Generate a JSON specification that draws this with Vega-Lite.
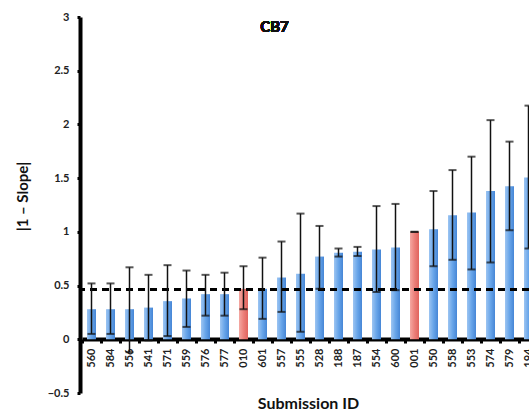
{
  "$schema": "https://vega.github.io/schema/vega-lite/v6.json",
  "width": 449,
  "height": 376,
  "autosize": {"type": "none"},
  "padding": {"left": 80, "top": 17, "right": 0, "bottom": 19},
  "background": "white",
  "config": {
    "view": {"stroke": null},
    "axis": {"grid": false, "labelFont": "Lato", "titleFont": "Lato", "labelFontWeight": "bold", "titleFontWeight": "bold", "labelColor": "#222", "titleColor": "#111", "domainColor": "black", "tickColor": "black"}
  },
  "data": {"values": [
    {"id": "560", "value": 0.28, "lo": 0.05, "hi": 0.52, "type": "submission"},
    {"id": "584", "value": 0.28, "lo": 0.05, "hi": 0.52, "type": "submission"},
    {"id": "556", "value": 0.28, "lo": -0.12, "hi": 0.67, "type": "submission"},
    {"id": "541", "value": 0.295, "lo": -0.01, "hi": 0.6, "type": "submission"},
    {"id": "571", "value": 0.355, "lo": 0.03, "hi": 0.69, "type": "submission"},
    {"id": "559", "value": 0.38, "lo": 0.115, "hi": 0.64, "type": "submission"},
    {"id": "576", "value": 0.42, "lo": 0.22, "hi": 0.6, "type": "submission"},
    {"id": "577", "value": 0.42, "lo": 0.22, "hi": 0.62, "type": "submission"},
    {"id": "010", "value": 0.47, "lo": 0.28, "hi": 0.68, "type": "reference"},
    {"id": "601", "value": 0.47, "lo": 0.19, "hi": 0.76, "type": "submission"},
    {"id": "557", "value": 0.575, "lo": 0.255, "hi": 0.91, "type": "submission"},
    {"id": "555", "value": 0.61, "lo": 0.07, "hi": 1.17, "type": "submission"},
    {"id": "528", "value": 0.77, "lo": 0.47, "hi": 1.055, "type": "submission"},
    {"id": "188", "value": 0.805, "lo": 0.77, "hi": 0.845, "type": "submission"},
    {"id": "187", "value": 0.815, "lo": 0.775, "hi": 0.86, "type": "submission"},
    {"id": "554", "value": 0.835, "lo": 0.44, "hi": 1.24, "type": "submission"},
    {"id": "600", "value": 0.855, "lo": 0.457, "hi": 1.26, "type": "submission"},
    {"id": "001", "value": 1.0, "lo": 1.0, "hi": 1.0, "type": "reference"},
    {"id": "550", "value": 1.025, "lo": 0.68, "hi": 1.38, "type": "submission"},
    {"id": "558", "value": 1.155, "lo": 0.74, "hi": 1.575, "type": "submission"},
    {"id": "553", "value": 1.18, "lo": 0.65, "hi": 1.7, "type": "submission"},
    {"id": "574", "value": 1.38, "lo": 0.715, "hi": 2.04, "type": "submission"},
    {"id": "579", "value": 1.425, "lo": 1.015, "hi": 1.84, "type": "submission"},
    {"id": "194", "value": 1.505, "lo": 0.845, "hi": 2.175, "type": "submission"}
  ]},
  "encoding": {
    "x": {
      "field": "id", "type": "nominal", "sort": null,
      "scale": {"domain": ["560", "584", "556", "541", "571", "559", "576", "577", "010", "601", "557", "555", "528", "188", "187", "554", "600", "001", "550", "558", "553", "574", "579", "194"], "range": [2, 458], "paddingInner": 0, "paddingOuter": 0},
      "axis": {
        "offset": -54, "domainWidth": 4, "tickBand": "extent", "tickSize": 4, "tickWidth": 3,
        "labelAngle": -90, "labelPadding": 5, "labelFontSize": 11,
        "title": "Submission ID", "titleFontSize": 16, "titleX": 228, "titleY": 64,
        "titleAlign": "center", "titleBaseline": "middle"
      }
    }
  },
  "layer": [
    {
      "transform": [{"filter": "datum.type === 'submission'"}],
      "mark": {"type": "bar", "size": 9, "fill": {"gradient": "linear", "x1": 0, "x2": 1, "y1": 0, "y2": 0, "stops": [{"offset": 0, "color": "#9dc5f2"}, {"offset": 0.5, "color": "#68a5e9"}, {"offset": 1, "color": "#4686d6"}]}},
      "encoding": {
        "y": {
          "field": "value", "type": "quantitative",
          "scale": {"domain": [-0.5, 3], "nice": false, "zero": false},
          "axis": {
            "values": [-0.5, 0, 0.5, 1, 1.5, 2, 2.5, 3], "format": ".1~f", "domainWidth": 4, "tickSize": 3, "tickWidth": 3,
            "labelFontSize": 11, "labelPadding": 8,
            "title": "|1 – Slope|", "titleFontSize": 15, "titleX": -58, "titleY": 179,
            "titleAlign": "center", "titleBaseline": "middle", "titleAngle": -90
          }
        }
      }
    },
    {
      "transform": [{"filter": "datum.type === 'reference'"}],
      "mark": {"type": "bar", "size": 9, "fill": {"gradient": "linear", "x1": 0, "x2": 1, "y1": 0, "y2": 0, "stops": [{"offset": 0, "color": "#f4a8a2"}, {"offset": 0.5, "color": "#ec807a"}, {"offset": 1, "color": "#e0635d"}]}},
      "encoding": {"y": {"field": "value", "type": "quantitative"}}
    },
    {
      "mark": {"type": "rule", "color": "black", "strokeWidth": 2, "strokeDash": [7, 5]},
      "encoding": {"x": null, "y": {"datum": 0.46}}
    },
    {
      "mark": {"type": "rule", "color": "#111", "strokeWidth": 1.5},
      "encoding": {"y": {"field": "lo", "type": "quantitative"}, "y2": {"field": "hi"}}
    },
    {
      "mark": {"type": "tick", "color": "#111", "size": 8, "thickness": 2},
      "encoding": {"y": {"field": "hi", "type": "quantitative"}}
    },
    {
      "mark": {"type": "tick", "color": "#111", "size": 8, "thickness": 2},
      "encoding": {"y": {"field": "lo", "type": "quantitative"}}
    },
    {
      "mark": {"type": "text", "text": "CB7", "font": "Lato", "fontSize": 15, "fontWeight": "bold", "fill": "#111", "stroke": null, "align": "center", "baseline": "middle", "dx": 12},
      "encoding": {"x": {"datum": "601"}, "y": {"datum": 2.91}}
    }
  ]
}
